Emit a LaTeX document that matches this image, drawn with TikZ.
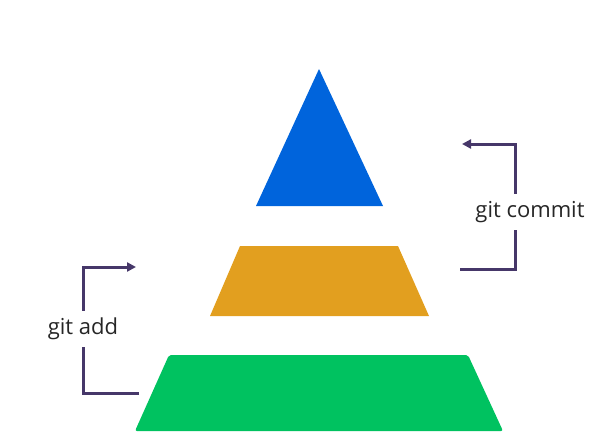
\documentclass[tikz,border=0pt]{standalone}
\usepackage{fontspec}
\setmainfont{Open Sans}
\usetikzlibrary{arrows.meta, calc}
\definecolor{gitblue}{RGB}{0,100,220}
\definecolor{gitorange}{RGB}{226,159,31}
\definecolor{gitgreen}{RGB}{0,194,96}
\definecolor{flowpurple}{RGB}{70,55,105}
\tikzset{
  tier/.style={draw=none},
  flow/.style={draw=flowpurple, line width=3pt},
  flowarrow/.style={flow, -{Triangle[length=9pt, width=9pt]}},
  steplabel/.style={font=\fontsize{22}{26}\selectfont, text=black!85, inner sep=0pt, minimum height=36pt}
}
\begin{document}
\begin{tikzpicture}[x=1pt, y=-1pt]
  \useasboundingbox (0,0) rectangle (612,431);
  % pyramid tiers
  \fill[tier, gitblue] (319,69) -- (383,206) -- (256,206) -- cycle;
  \fill[tier, gitorange] (240,246) -- (398,246) -- (429,316) -- (210,316) -- cycle;
  \fill[tier, gitgreen, rounded corners=2pt] (169,355) -- (468,355) -- (503,431) -- (135,431) -- cycle;
  % git add
  \node[steplabel] (addLabel) at (83,329) {git add};
  \coordinate (addFrom) at (139,393);
  \coordinate (addTo) at (136,267);
  \draw[flow] (addFrom) -| (addLabel.south);
  \draw[flowarrow] (addLabel.north) |- (addTo);
  % git commit
  \node[steplabel] (commitLabel) at (530,212) {git commit};
  \coordinate (commitFrom) at (460,269);
  \coordinate (commitRise) at (515,269);
  \coordinate (commitTo) at (462,144);
  \draw[flow] (commitFrom) -| (commitLabel.south -| commitRise);
  \draw[flowarrow] (commitLabel.north -| commitRise) |- (commitTo);
\end{tikzpicture}
\end{document}
